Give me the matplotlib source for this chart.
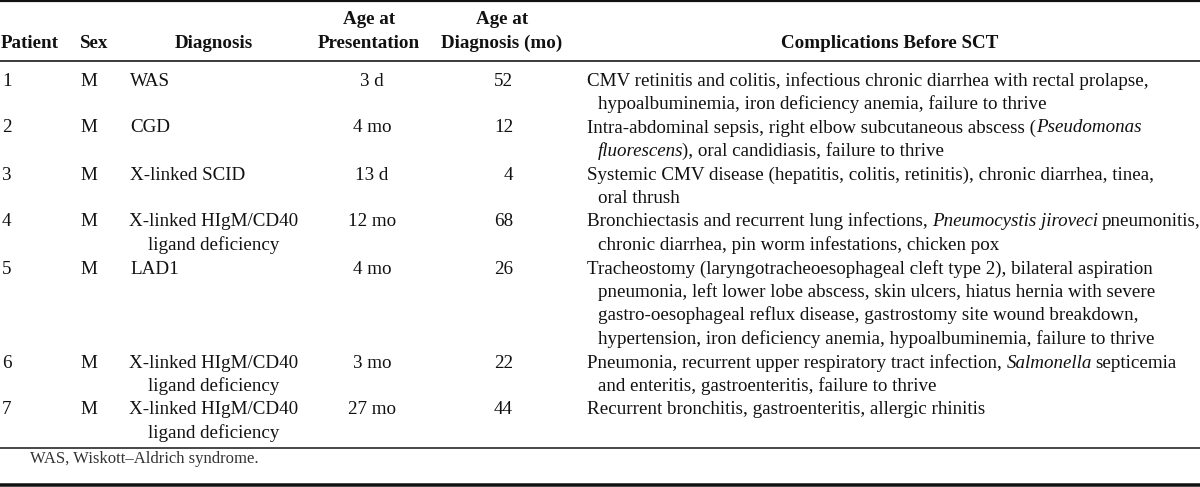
import matplotlib.pyplot as plt

plt.rcParams['font.family'] = ['Liberation Serif', 'DejaVu Serif']

# table data (*...* marks italic words)
patients = ["1", "2", "3", "4", "5", "6", "7"]
sexes = ["M", "M", "M", "M", "M", "M", "M"]
diagnoses = [
    ["WAS"],
    ["CGD"],
    ["X-linked SCID"],
    ["X-linked HIgM/CD40", "ligand deficiency"],
    ["LAD1"],
    ["X-linked HIgM/CD40", "ligand deficiency"],
    ["X-linked HIgM/CD40", "ligand deficiency"],
]
age_presentation = ["3 d", "4 mo", "13 d", "12 mo", "4 mo", "3 mo", "27 mo"]
age_diagnosis = ["52", "12", "4", "68", "26", "22", "44"]
complications = [
    ["CMV retinitis and colitis, infectious chronic diarrhea with rectal prolapse,",
     "hypoalbuminemia, iron deficiency anemia, failure to thrive"],
    ["Intra-abdominal sepsis, right elbow subcutaneous abscess (*Pseudomonas*",
     "*fluorescens*), oral candidiasis, failure to thrive"],
    ["Systemic CMV disease (hepatitis, colitis, retinitis), chronic diarrhea, tinea,",
     "oral thrush"],
    ["Bronchiectasis and recurrent lung infections, *Pneumocystis jiroveci* pneumonitis,",
     "chronic diarrhea, pin worm infestations, chicken pox"],
    ["Tracheostomy (laryngotracheoesophageal cleft type 2), bilateral aspiration",
     "pneumonia, left lower lobe abscess, skin ulcers, hiatus hernia with severe",
     "gastro-oesophageal reflux disease, gastrostomy site wound breakdown,",
     "hypertension, iron deficiency anemia, hypoalbuminemia, failure to thrive"],
    ["Pneumonia, recurrent upper respiratory tract infection, *Salmonella* septicemia",
     "and enteritis, gastroenteritis, failure to thrive"],
    ["Recurrent bronchitis, gastroenteritis, allergic rhinitis"],
]
footnote = "WAS, Wiskott\u2013Aldrich syndrome."

W, H = 1200, 487
fig = plt.figure(figsize=(W / 100, H / 100), dpi=100)
ax = fig.add_axes([0, 0, 1, 1])
ax.set_xlim(0, W)
ax.set_ylim(H, 0)
ax.axis('off')
renderer = fig.canvas.get_renderer()

ink = '#111111'
fs = 13.7
lh = 23.5


def text_width(s, style='normal'):
    t = ax.text(0, 0, s, fontsize=fs, style=style)
    w = t.get_window_extent(renderer).width
    t.remove()
    return w


space_w = text_width("a a") - text_width("aa")


def draw_runs(x, y, s):
    # draw a line made of normal and italic pieces, one after another
    parts = s.split('*')
    for k, part in enumerate(parts):
        if not part:
            continue
        style = 'italic' if k % 2 else 'normal'
        lead = len(part) - len(part.lstrip(' '))
        trail = len(part) - len(part.rstrip(' '))
        x += lead * space_w
        core = part.strip(' ')
        t = ax.text(x, y, core, fontsize=fs, style=style, color=ink, va='baseline')
        x += t.get_window_extent(renderer).width + trail * space_w
        if style == 'italic':
            x -= 2  # italic box overhang


# rules
for y, lw in [(1, 2.2), (61, 1.6), (448, 1.5), (485, 3.5)]:
    ax.plot([0, W], [y, y], color=ink, lw=lw * 0.72, solid_capstyle='butt')

# header
hb = 48
bold = dict(fontsize=fs, fontweight='bold', color=ink, va='baseline')
ax.text(1, hb, "Patient", **bold)
ax.text(80, hb, "Sex", **bold)
ax.text(214, hb, "Diagnosis", ha='center', **bold)
ax.text(369, hb - lh, "Age at", ha='center', **bold)
ax.text(369, hb, "Presentation", ha='center', **bold)
ax.text(502, hb - lh, "Age at", ha='center', **bold)
ax.text(502, hb, "Diagnosis (mo)", ha='center', **bold)
ax.text(890, hb, "Complications Before SCT", ha='center', **bold)

# body rows
y = 85.5
for i in range(len(patients)):
    ax.text(2, y, patients[i], fontsize=fs, color=ink, va='baseline')
    ax.text(80, y, sexes[i], fontsize=fs, color=ink, va='baseline')
    for j, d in enumerate(diagnoses[i]):
        if len(diagnoses[i]) > 1:
            ax.text(214, y + j * lh, d, fontsize=fs, color=ink, va='baseline', ha='center')
        else:
            ax.text(130, y + j * lh, d, fontsize=fs, color=ink, va='baseline')
    ax.text(372, y, age_presentation[i], fontsize=fs, color=ink, va='baseline', ha='center')
    ax.text(513, y, age_diagnosis[i], fontsize=fs, color=ink, va='baseline', ha='right')
    for j, c in enumerate(complications[i]):
        draw_runs(587 if j == 0 else 598, y + j * lh, c)
    nlines = max(len(diagnoses[i]), len(complications[i]))
    y += nlines * lh

ax.text(30, 463, footnote, fontsize=12, color='#333333', va='baseline')

fig.savefig("out.png", dpi=100)
